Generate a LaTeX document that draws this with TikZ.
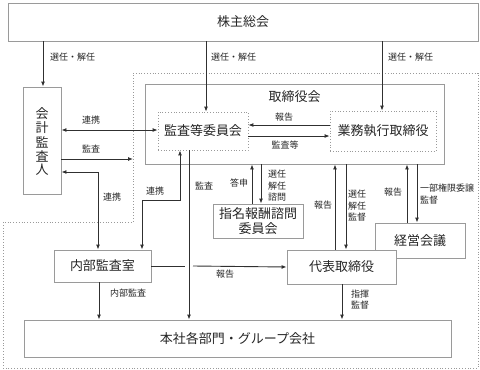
\documentclass[tikz,border=0pt]{standalone}
\usepackage{fontspec}
\setmainfont{Noto Sans CJK JP}
\usetikzlibrary{arrows.meta}
\definecolor{boxc}{HTML}{9A9A9A}
\definecolor{linec}{HTML}{303030}
\definecolor{txtc}{HTML}{262626}
\begin{document}
\begin{tikzpicture}[x=1pt,y=-1pt,
  box/.style={draw=boxc,line width=0.9pt,fill=white,inner sep=0pt,anchor=center,text=txtc,font=\fontsize{13}{15}\selectfont},
  dbox/.style={draw=boxc,line width=0.8pt,dotted,fill=white,inner sep=0pt,anchor=center,text=txtc,font=\fontsize{13}{15}\selectfont},
  arr/.style={draw=linec,line width=0.9pt,-{Latex[length=5pt,width=4pt]}},
  darr/.style={draw=linec,line width=0.9pt,{Latex[length=5pt,width=4pt]}-{Latex[length=5pt,width=4pt]}},
  ln/.style={draw=linec,line width=0.9pt},
  lbl/.style={inner sep=0pt,text=txtc,font=\fontsize{9}{11.5}\selectfont,align=left}
]
\useasboundingbox (0,0) rectangle (480,370);
% outer dotted region
\draw[boxc,line width=0.8pt,dotted] (133,73) -- (478,73) -- (478,368) -- (3,368) -- (3,222) -- (133,222) -- cycle;
% boxes
\node[box,minimum width=470pt,minimum height=38pt] (gm) at (243,22) {株主総会};
\node[box,minimum width=38pt,minimum height=107pt] (aud) at (42,140.5) {};
\foreach \c/\y in {会/114,計/128,監/142,査/156,人/170}
  \node[lbl,font=\fontsize{13}{15}\selectfont] (aud\y) at (42,\y) {\c};
\node[box,minimum width=299pt,minimum height=80pt] (board) at (294.5,124) {};
\node[lbl,font=\fontsize{13}{15}\selectfont] (boardt) at (294.5,97) {取締役会};
\node[dbox,minimum width=90pt,minimum height=38pt] (ac) at (203,131) {監査等委員会};
\node[dbox,minimum width=106pt,minimum height=40pt] (ex) at (383,131) {業務執行取締役};
\node[box,minimum width=90pt,minimum height=34pt,align=center,font=\fontsize{13}{14.5}\selectfont] (nom) at (258,221) {指名報酬諮問\\委員会};
\node[box,minimum width=90pt,minimum height=35pt] (mm) at (420,240.5) {経営会議};
\node[box,minimum width=109pt,minimum height=34pt] (rep) at (341.5,267) {代表取締役};
\node[box,minimum width=97pt,minimum height=32pt] (ia) at (102.5,266) {内部監査室};
\node[box,minimum width=427pt,minimum height=37pt] (hq) at (237.5,338.5) {本社各部門・グループ会社};
% top arrows
\draw[arr] (gm.south -| aud.north) ++(1,0) coordinate (t1) -- (t1 |- aud.north);
\draw[arr] (206,0 |- gm.south) coordinate (t2) -- (t2 |- ac.north);
\draw[arr] (382,0 |- gm.south) coordinate (t3) -- (t3 |- ex.north);
\node[lbl,anchor=west] (l1) at (50,57) {選任・解任};
\node[lbl,anchor=west] (l2) at (211,57) {選任・解任};
\node[lbl,anchor=west] (l3) at (388,57) {選任・解任};
% auditor links
\draw[darr] (aud.east |- 0,130) -- (ac.west |- 0,130);
\node[lbl] (l4) at (91,120) {連携};
\draw[arr] (aud.east |- 0,159) -- (133,159) coordinate (auditend);
\node[lbl] (l5) at (91,149) {監査};
\draw[darr] (aud.east |- 0,172) -- (98,172) -- (98,0 |- ia.north);
\node[lbl] (l6) at (112,197) {連携};
\draw[darr] (180,0 |- ac.south) -- (180,200) -- (142,200) -- (142,0 |- ia.north);
\node[lbl] (l7) at (155,191) {連携};
\draw[arr] (189,0 |- ac.south) -- (189,0 |- hq.north);
\node[lbl] (l8) at (204,186) {監査};
% ac <-> exec
\draw[arr] (ex.west |- 0,125) -- (ac.east |- 0,125);
\node[lbl] (l9) at (284,117) {報告};
\draw[arr] (ac.east |- 0,136) -- (ex.west |- 0,136);
\node[lbl] (l10) at (285,145) {監査等};
% nomination committee
\draw[arr] (252,0 |- nom.north) -- (252,0 |- board.south);
\node[lbl] (l11) at (239,183) {答申};
\draw[arr] (261,0 |- board.south) -- (261,0 |- nom.north);
\node[lbl] (l12) at (277,186) {選任\\解任\\諮問};
% representative director
\draw[arr] (335,0 |- rep.north) -- (335,0 |- board.south);
\node[lbl] (l13) at (323,205) {報告};
\draw[arr] (346,0 |- board.south) -- (346,0 |- rep.north);
\node[lbl] (l14) at (357,206) {選任\\解任\\監督};
% management meeting
\draw[arr] (407,0 |- mm.north) -- (407,0 |- board.south);
\node[lbl] (l15) at (393,192) {報告};
\draw[arr] (417,0 |- board.south) -- (417,0 |- mm.north);
\node[lbl,anchor=west] (l16) at (420,194) {一部権限委譲\\監督};
% internal audit -> rep
\draw[ln] (ia.east) -- (185,266) coordinate (g1);
\draw[arr] (193,266) coordinate (g2) -- (rep.west);
\node[lbl] (l17) at (225,274) {報告};
\draw[arr] (99,0 |- ia.south) -- (99,0 |- hq.north);
\node[lbl] (l18) at (128,293) {内部監査};
\draw[arr] (342,0 |- rep.south) -- (342,0 |- hq.north);
\node[lbl] (l19) at (360,299.5) {指揮\\監督};
\end{tikzpicture}
\end{document}
